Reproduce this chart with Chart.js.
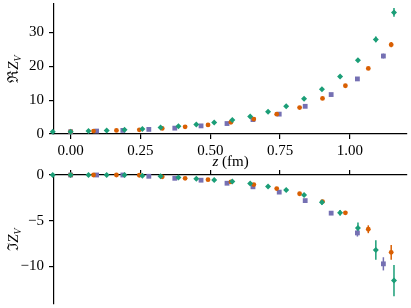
<!DOCTYPE html>
<html>
<head>
<meta charset="utf-8">
<script src="https://cdn.jsdelivr.net/npm/chart.js@4"></script>
<style>
  body { margin: 0; background: #fff; }
  #wrap { position: relative; width: 411px; height: 308px; }
  #topBox { position: absolute; left: 0; top: 0; width: 411px; height: 172px; }
  #botBox { position: absolute; left: 0; top: 165px; width: 411px; height: 143px; }
</style>
</head>
<body>
<div id="wrap">
  <div id="topBox"><canvas id="reChart"></canvas></div>
  <div id="botBox"><canvas id="imChart"></canvas></div>
</div>
<script>
// z values (fm) of each ensemble
const greenZ  = [-0.064, 0, 0.064, 0.129, 0.193, 0.257, 0.322, 0.386, 0.45, 0.514, 0.579, 0.643, 0.707, 0.772, 0.836, 0.9, 0.965, 1.029, 1.093, 1.158];
const orangeZ = [0, 0.082, 0.164, 0.246, 0.328, 0.41, 0.492, 0.574, 0.656, 0.738, 0.82, 0.902, 0.984, 1.066, 1.148];
const purpleZ = [0, 0.093, 0.187, 0.28, 0.373, 0.467, 0.56, 0.653, 0.747, 0.84, 0.933, 1.027, 1.12];

// Re Z_V
const greenRe  = [0.66, 0.66, 0.87, 1.07, 1.24, 1.45, 1.94, 2.31, 2.8, 3.38, 4.13, 5.2, 6.56, 8.18, 10.4, 13.2, 16.97, 21.76, 27.95, 35.9];
const orangeRe = [0.66, 0.87, 1.07, 1.24, 1.65, 2.11, 2.69, 3.47, 4.42, 5.87, 7.8, 10.5, 14.25, 19.36, 26.4];
const purpleRe = [0.66, 0.87, 1.07, 1.36, 1.73, 2.4, 3.09, 4.25, 5.87, 8.18, 11.65, 16.27, 23.03];
const greenReErr  = [0.05, 0.05, 0.05, 0.05, 0.05, 0.05, 0.05, 0.05, 0.06, 0.07, 0.08, 0.1, 0.12, 0.15, 0.2, 0.25, 0.3, 0.45, 0.85, 1.3];
const orangeReErr = [0.05, 0.05, 0.05, 0.05, 0.05, 0.05, 0.06, 0.07, 0.08, 0.1, 0.12, 0.15, 0.25, 0.35, 0.8];
const purpleReErr = [0.05, 0.05, 0.05, 0.05, 0.05, 0.06, 0.07, 0.08, 0.1, 0.15, 0.2, 0.35, 0.72];

// Im Z_V
const greenIm  = [0, 0, 0, 0, 0, -0.08, -0.14, -0.27, -0.4, -0.54, -0.72, -0.94, -1.26, -1.64, -2.19, -2.99, -4.13, -5.79, -8.2, -11.54];
const orangeIm = [0, 0, 0, -0.03, -0.2, -0.36, -0.51, -0.76, -1.05, -1.48, -2.05, -2.91, -4.13, -5.93, -8.45];
const purpleIm = [0, 0, 0, -0.14, -0.36, -0.57, -0.9, -1.29, -1.87, -2.8, -4.17, -6.33, -9.71];
const greenImErr  = [0.05, 0.05, 0.05, 0.05, 0.05, 0.05, 0.05, 0.06, 0.07, 0.08, 0.1, 0.1, 0.12, 0.15, 0.2, 0.25, 0.3, 0.6, 1.06, 1.7];
const orangeImErr = [0.05, 0.05, 0.05, 0.05, 0.05, 0.06, 0.07, 0.08, 0.1, 0.12, 0.15, 0.2, 0.2, 0.43, 0.8];
const purpleImErr = [0.05, 0.05, 0.05, 0.05, 0.06, 0.07, 0.08, 0.1, 0.12, 0.15, 0.2, 0.4, 0.72];

const xTicks = [0, 0.25, 0.5, 0.75, 1.0];
const reTicks = [0, 10, 20, 30];
const imTicks = [0, -5, -10];

const GREEN = '#1b9e77', ORANGE = '#d95f02', PURPLE = '#7570b3';
const SERIF = "'Liberation Serif', 'DejaVu Serif', serif";

Chart.defaults.font.family = SERIF;
Chart.defaults.font.size = 15;
Chart.defaults.color = '#000';

function points(zs, vs) {
  return zs.map((z, i) => ({ x: z, y: vs[i] }));
}

function makeSets(g, o, p, ge, oe, pe) {
  return [
    { data: points(greenZ, g), errors: ge, borderColor: GREEN, backgroundColor: GREEN, pointStyle: 'rectRot', pointRadius: 3, borderWidth: 0, clip: false },
    { data: points(orangeZ, o), errors: oe, borderColor: ORANGE, backgroundColor: ORANGE, pointStyle: 'circle', pointRadius: 2.4, borderWidth: 0, clip: false },
    { data: points(purpleZ, p), errors: pe, borderColor: PURPLE, backgroundColor: PURPLE, pointStyle: 'rect', pointRadius: 3.4, borderWidth: 0, clip: false }
  ];
}

// vertical error bars through the scales
const errorBars = {
  id: 'errorBars',
  beforeDatasetsDraw(chart) {
    const ctx = chart.ctx, xs = chart.scales.x, ys = chart.scales.y;
    chart.data.datasets.forEach(ds => {
      ctx.save();
      ctx.strokeStyle = ds.borderColor;
      ctx.lineWidth = 1.5;
      ds.data.forEach((p, i) => {
        const e = ds.errors[i];
        const px = xs.getPixelForValue(p.x);
        ctx.beginPath();
        ctx.moveTo(px, ys.getPixelForValue(p.y - e));
        ctx.lineTo(px, ys.getPixelForValue(p.y + e));
        ctx.stroke();
      });
      ctx.restore();
    });
  }
};

// text made of pieces (italic / subscript)
function drawPieces(ctx, pieces, cx, cy, rotate) {
  ctx.save();
  ctx.translate(cx, cy);
  if (rotate) ctx.rotate(-Math.PI / 2);
  let total = 0;
  pieces.forEach(p => { ctx.font = p.font; p.w = ctx.measureText(p.t).width; total += p.w; });
  let x = -total / 2;
  ctx.fillStyle = '#000';
  ctx.textBaseline = 'alphabetic';
  pieces.forEach(p => { ctx.font = p.font; ctx.fillText(p.t, x, 5 + (p.dy || 0)); x += p.w; });
  ctx.restore();
}

function titlePlugin(sym, withX) {
  return {
    id: 'titles',
    afterDraw(chart) {
      const ctx = chart.ctx, a = chart.chartArea;
      drawPieces(ctx, [
        { t: sym, font: '15px ' + SERIF },
        { t: 'Z', font: 'italic 15px ' + SERIF },
        { t: 'V', font: 'italic 10px ' + SERIF, dy: 3 }
      ], 13, (a.top + a.bottom) / 2, true);
      if (withX) {
        drawPieces(ctx, [
          { t: 'z', font: 'italic 15px ' + SERIF },
          { t: ' (fm)', font: '15px ' + SERIF }
        ], (a.left + a.right) / 2, 161, false);
      }
    }
  };
}

function noPad(s) {
  s.paddingTop = 0; s.paddingBottom = 0; s.paddingLeft = 0; s.paddingRight = 0;
}

function axisBase() {
  return {
    type: 'linear',
    grid: { drawOnChartArea: false, drawTicks: true, tickLength: 5, color: '#000', lineWidth: 1.2 },
    border: { display: true, color: '#000', width: 1.2 }
  };
}

const xMin = -0.0596, xMax = 1.2046;

new Chart(document.getElementById('reChart'), {
  type: 'scatter',
  data: { datasets: makeSets(greenRe, orangeRe, purpleRe, greenReErr, orangeReErr, purpleReErr) },
  options: {
    responsive: true, maintainAspectRatio: false, animation: false,
    layout: { padding: { top: 1, right: 3, left: 0, bottom: 0 } },
    plugins: { legend: { display: false }, tooltip: { enabled: false } },
    scales: {
      x: Object.assign(axisBase(), {
        position: 'bottom', min: xMin, max: xMax,
        afterBuildTicks: s => { s.ticks = xTicks.map(v => ({ value: v })); },
        afterFit: s => { s.height = 38; noPad(s); },
        ticks: { padding: 3, maxRotation: 0, callback: v => v.toFixed(2) }
      }),
      y: Object.assign(axisBase(), {
        position: 'left', min: 0, max: 38.4,
        afterBuildTicks: s => { s.ticks = reTicks.map(v => ({ value: v })); },
        afterFit: s => { s.width = 54; noPad(s); },
        ticks: { padding: 5, callback: v => String(v) }
      })
    }
  },
  plugins: [errorBars, titlePlugin('\u211C', true)]
});

new Chart(document.getElementById('imChart'), {
  type: 'scatter',
  data: { datasets: makeSets(greenIm, orangeIm, purpleIm, greenImErr, orangeImErr, purpleImErr) },
  options: {
    responsive: true, maintainAspectRatio: false, animation: false,
    layout: { padding: { top: 0, right: 3, left: 0, bottom: 3 } },
    plugins: { legend: { display: false }, tooltip: { enabled: false } },
    scales: {
      x: Object.assign(axisBase(), {
        position: 'top', min: xMin, max: xMax,
        afterBuildTicks: s => { s.ticks = xTicks.map(v => ({ value: v })); },
        afterFit: s => { s.height = 10; noPad(s); },
        ticks: { display: false }
      }),
      y: Object.assign(axisBase(), {
        position: 'left', min: -14.1, max: 0,
        afterBuildTicks: s => { s.ticks = imTicks.map(v => ({ value: v })); },
        afterFit: s => { s.width = 54; noPad(s); },
        ticks: { padding: 5, callback: v => v < 0 ? '\u2212' + Math.abs(v) : String(v) }
      })
    }
  },
  plugins: [errorBars, titlePlugin('\u2111', false)]
});
</script>
</body>
</html>
